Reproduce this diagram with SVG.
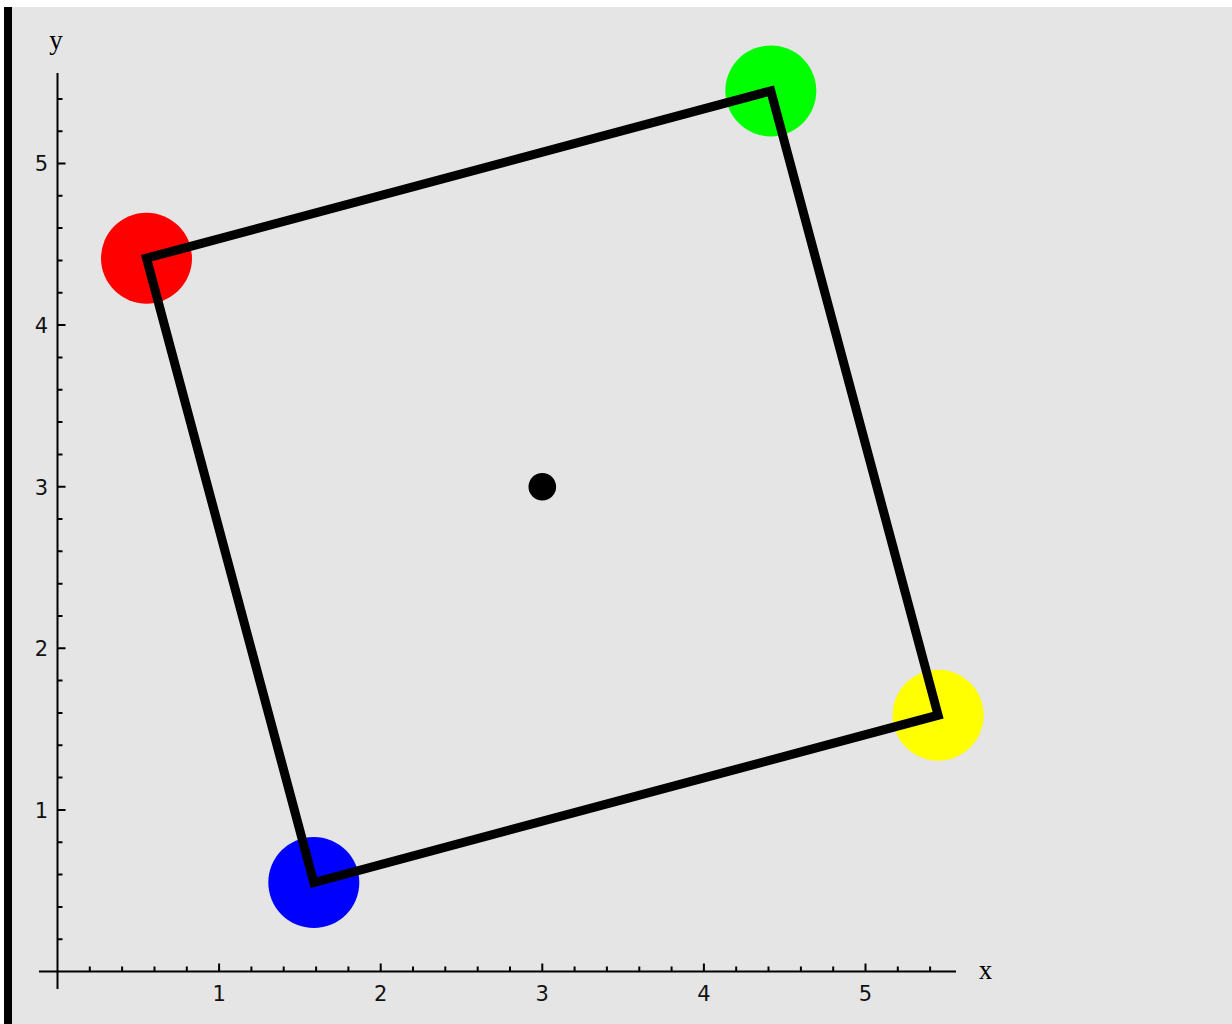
<svg xmlns="http://www.w3.org/2000/svg" width="1232" height="1024" viewBox="0 0 1232 1024">
<style>
.axis{stroke:#000;stroke-width:2;fill:none}
.tick{stroke:#000;stroke-width:2;fill:none}
.tl{font-family:"DejaVu Sans",sans-serif;font-size:21px;fill:#111}
.al{font-family:"Liberation Serif",serif;font-size:27px;fill:#000}
</style>
<rect x="0" y="0" width="1232" height="1024" fill="#ffffff"/>
<rect x="12" y="7" width="1220" height="1017" fill="#e5e5e5"/>
<rect x="4" y="7" width="8" height="1017" fill="#000"/>
<g id="axes">
<line class="axis" x1="39" y1="971.5" x2="956" y2="971.5"/>
<line class="axis" x1="57.5" y1="989" x2="57.5" y2="73"/>
<path class="tick" d="M219.1 971.5V963.5M380.7 971.5V963.5M542.3 971.5V963.5M703.9 971.5V963.5M865.5 971.5V963.5"/>
<path class="tick" d="M89.8 971.5V966.5M122.1 971.5V966.5M154.5 971.5V966.5M186.8 971.5V966.5M251.4 971.5V966.5M283.7 971.5V966.5M316.1 971.5V966.5M348.4 971.5V966.5M413 971.5V966.5M445.3 971.5V966.5M477.7 971.5V966.5M510 971.5V966.5M574.6 971.5V966.5M606.9 971.5V966.5M639.3 971.5V966.5M671.6 971.5V966.5M736.2 971.5V966.5M768.5 971.5V966.5M800.9 971.5V966.5M833.2 971.5V966.5M897.8 971.5V966.5M930.1 971.5V966.5"/>
<path class="tick" d="M57.5 809.9H65.5M57.5 648.3H65.5M57.5 486.7H65.5M57.5 325.1H65.5M57.5 163.5H65.5"/>
<path class="tick" d="M57.5 939.2H62.5M57.5 906.9H62.5M57.5 874.5H62.5M57.5 842.2H62.5M57.5 777.6H62.5M57.5 745.3H62.5M57.5 712.9H62.5M57.5 680.6H62.5M57.5 616H62.5M57.5 583.7H62.5M57.5 551.3H62.5M57.5 519H62.5M57.5 454.4H62.5M57.5 422.1H62.5M57.5 389.7H62.5M57.5 357.4H62.5M57.5 292.8H62.5M57.5 260.5H62.5M57.5 228.1H62.5M57.5 195.8H62.5M57.5 131.2H62.5M57.5 98.9H62.5"/>
<g class="tl" text-anchor="middle">
<text x="219.1" y="1000.5">1</text>
<text x="380.7" y="1000.5">2</text>
<text x="542.3" y="1000.5">3</text>
<text x="703.9" y="1000.5">4</text>
<text x="865.5" y="1000.5">5</text>
</g>
<g class="tl" text-anchor="end">
<text x="48" y="817.5">1</text>
<text x="48" y="656">2</text>
<text x="48" y="494.5">3</text>
<text x="48" y="333">4</text>
<text x="48" y="171">5</text>
</g>
<text class="al" x="56" y="49" text-anchor="middle">y</text>
<text class="al" x="985.5" y="979" text-anchor="middle">x</text>
</g>
<g id="points">
<circle id="red" cx="146.5" cy="258.2" r="45.5" fill="#ff0000"/>
<circle id="green" cx="770.8" cy="90.9" r="45.5" fill="#00ff00"/>
<circle id="yellow" cx="938.1" cy="715.2" r="45.5" fill="#ffff00"/>
<circle id="blue" cx="313.8" cy="882.5" r="45.5" fill="#0000ff"/>
</g>
<g id="square">
<polygon points="146.5,258.2 770.8,90.9 938.1,715.2 313.8,882.5" fill="none" stroke="#000" stroke-width="9" stroke-linejoin="miter"/>
</g>
<circle id="center" cx="542.3" cy="486.7" r="13.8" fill="#000"/>
</svg>
